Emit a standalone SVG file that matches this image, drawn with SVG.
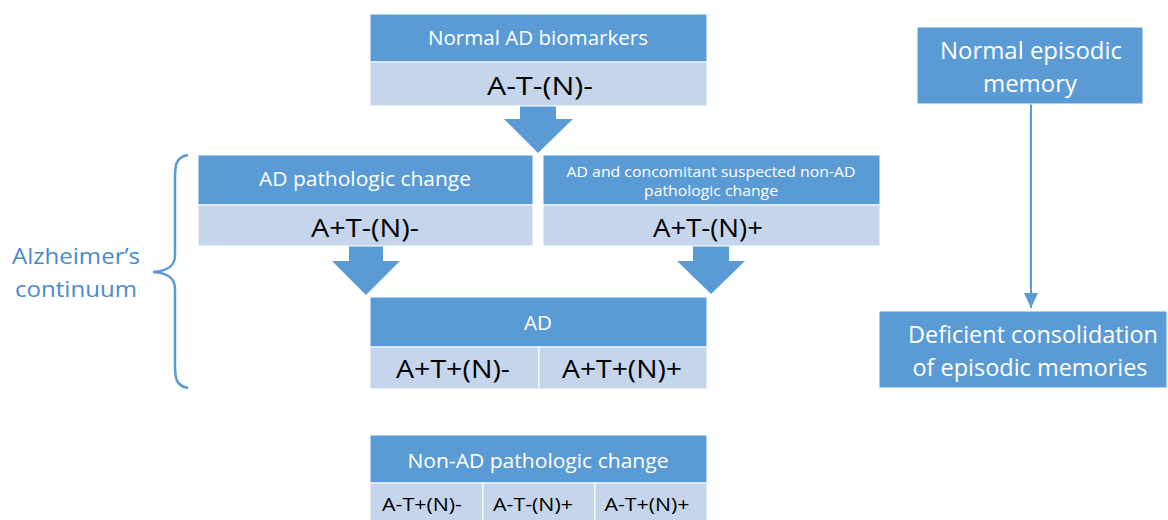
<svg xmlns="http://www.w3.org/2000/svg" width="1168" height="520" viewBox="0 0 1168 520">
<style>
.hd{fill:#5B9BD5;stroke:#ffffff;stroke-width:1}
.lt{fill:#C5D5EB;stroke:#ffffff;stroke-width:1}
.ht{font-family:"Open Sans",sans-serif;fill:#ffffff;text-anchor:middle;dominant-baseline:central}
.bt{font-family:"Open Sans",sans-serif;fill:#000000;text-anchor:middle;dominant-baseline:central}
.ar{fill:#5B9BD5}
.side{font-family:"Open Sans",sans-serif;fill:#4A8ACB;text-anchor:middle;dominant-baseline:central;font-size:21px}
</style>
<defs>
<marker id="ah" markerWidth="16" markerHeight="14" refX="15" refY="7" orient="auto" markerUnits="userSpaceOnUse">
<path d="M0,0 L15,7 L0,14 z" fill="#5B9BD5"/>
</marker>
</defs>
<rect width="1168" height="520" fill="#ffffff"/>

<g id="connectors">
<path class="ar" d="M520,106 H556 V119 H573 L538,153 L504,119 H520 Z"/>
<path class="ar" d="M349,246 H383 V261 H400 L366,295 L332,261 H349 Z"/>
<path class="ar" d="M693,246 H729 V261 H745 L711,294 L677,261 H693 Z"/>
<line x1="1031" y1="104" x2="1031" y2="308" stroke="#5B9BD5" stroke-width="2" marker-end="url(#ah)"/>
<path d="M188,155 C176,157 175,165 175,178 V255 C175,266 168,271 153,272 C168,273 175,278 175,289 V365 C175,378 176,386 188,388" fill="none" stroke="#5B9BD5" stroke-width="2.5"/>
</g>

<g id="normal-ad">
<rect class="hd" x="370" y="14" width="337" height="48"/>
<rect class="lt" x="370" y="62" width="337" height="44"/>
<text class="ht" x="538" y="37" font-size="20" textLength="220" lengthAdjust="spacingAndGlyphs">Normal AD biomarkers</text>
<text class="bt" x="540" y="85" font-size="25" textLength="106" lengthAdjust="spacingAndGlyphs">A-T-(N)-</text>
</g>

<g id="ad-pathologic">
<rect class="hd" x="198" y="155" width="335" height="50"/>
<rect class="lt" x="198" y="205" width="335" height="41"/>
<text class="ht" x="365" y="178" font-size="20" textLength="212" lengthAdjust="spacingAndGlyphs">AD pathologic change</text>
<text class="bt" x="365" y="227" font-size="25" textLength="108" lengthAdjust="spacingAndGlyphs">A+T-(N)-</text>
</g>

<g id="ad-concomitant">
<rect class="hd" x="543" y="155" width="337" height="50"/>
<rect class="lt" x="543" y="205" width="337" height="41"/>
<text class="ht" x="711" y="171" font-size="15" textLength="289" lengthAdjust="spacingAndGlyphs">AD and concomitant suspected non-AD</text>
<text class="ht" x="711" y="190" font-size="15" textLength="134" lengthAdjust="spacingAndGlyphs">pathologic change</text>
<text class="bt" x="708" y="227" font-size="25" textLength="110" lengthAdjust="spacingAndGlyphs">A+T-(N)+</text>
</g>

<g id="ad">
<rect class="hd" x="370" y="297" width="337" height="50"/>
<rect class="lt" x="370" y="347" width="169" height="42"/>
<rect class="lt" x="539" y="347" width="168" height="42"/>
<text class="ht" x="538" y="322" font-size="20" textLength="28" lengthAdjust="spacingAndGlyphs">AD</text>
<text class="bt" x="453" y="368" font-size="25" textLength="114" lengthAdjust="spacingAndGlyphs">A+T+(N)-</text>
<text class="bt" x="622" y="368" font-size="25" textLength="120" lengthAdjust="spacingAndGlyphs">A+T+(N)+</text>
</g>

<g id="non-ad">
<rect class="hd" x="370" y="435" width="337" height="48"/>
<rect class="lt" x="370" y="483" width="113" height="38"/>
<rect class="lt" x="483" y="483" width="112" height="38"/>
<rect class="lt" x="595" y="483" width="112" height="38"/>
<text class="ht" x="538" y="460" font-size="20" textLength="261" lengthAdjust="spacingAndGlyphs">Non-AD pathologic change</text>
<text class="bt" x="422" y="504" font-size="18" textLength="80" lengthAdjust="spacingAndGlyphs">A-T+(N)-</text>
<text class="bt" x="533" y="504" font-size="18" textLength="80" lengthAdjust="spacingAndGlyphs">A-T-(N)+</text>
<text class="bt" x="647" y="504" font-size="18" textLength="85" lengthAdjust="spacingAndGlyphs">A-T+(N)+</text>
</g>

<g id="continuum">
<text class="side" x="76" y="256" textLength="128" lengthAdjust="spacingAndGlyphs">Alzheimer’s</text>
<text class="side" x="76" y="289" textLength="122" lengthAdjust="spacingAndGlyphs">continuum</text>
</g>

<g id="normal-episodic">
<rect class="hd" x="917" y="27" width="226" height="77"/>
<text class="ht" x="1031" y="50" font-size="23" textLength="182" lengthAdjust="spacingAndGlyphs">Normal episodic</text>
<text class="ht" x="1030" y="83" font-size="23" textLength="94" lengthAdjust="spacingAndGlyphs">memory</text>
</g>

<g id="deficient">
<rect class="hd" x="879" y="311" width="288" height="77"/>
<text class="ht" x="1033" y="333" font-size="24" textLength="250" lengthAdjust="spacingAndGlyphs">Deficient consolidation</text>
<text class="ht" x="1030" y="366" font-size="24" textLength="235" lengthAdjust="spacingAndGlyphs">of episodic memories</text>
</g>
</svg>
